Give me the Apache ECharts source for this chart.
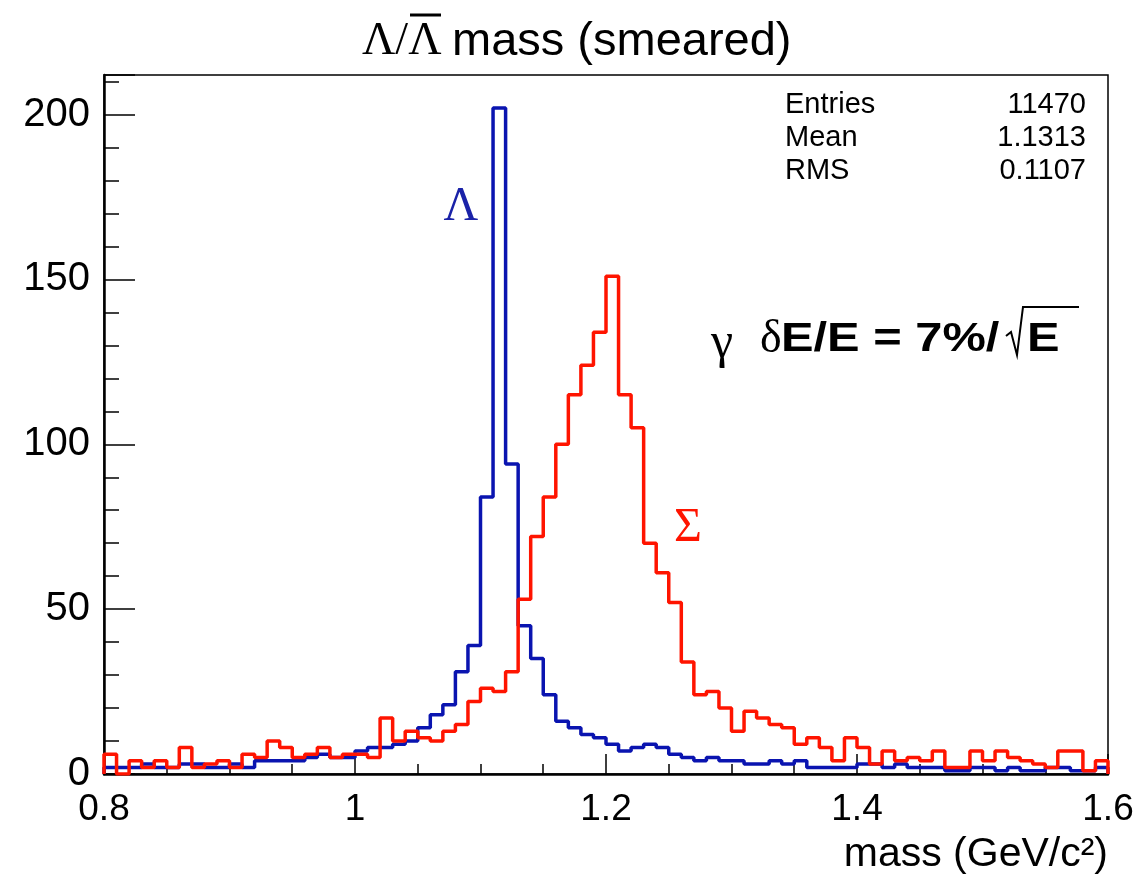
<!DOCTYPE html>
<html>
<head>
<meta charset="utf-8">
<title>Lambda mass (smeared)</title>
<script src="https://cdn.jsdelivr.net/npm/echarts@6/dist/echarts.min.js"></script>
<style>
  html, body { margin: 0; padding: 0; background: #fff; }
  #chart { width: 1143px; height: 882px; }
</style>
</head>
<body>
<div id="chart"></div>
<script>
// histogram binning: 80 bins of 0.01 GeV from 0.8 to 1.6
const binLo = 0.8;
const binWidth = 0.01;

// Lambda (blue) counts per bin
const lambdaCounts = [
  2, 2, 2, 3, 2, 2, 3, 3, 2, 2,
  3, 2, 4, 4, 4, 4, 5, 6, 5, 5,
  7, 8, 8, 9, 10, 14, 18, 21, 31, 39,
  84, 202, 94, 45, 35, 24, 16, 14, 12, 11,
  9, 7, 8, 9, 8, 6, 5, 4, 5, 4,
  4, 3, 3, 4, 3, 4, 2, 2, 2, 2,
  3, 3, 2, 3, 2, 2, 2, 1, 1, 2,
  2, 1, 2, 1, 1, 2, 2, 1, 1, 2
];

// Sigma (red) counts per bin
const sigmaCounts = [
  6, 0, 4, 2, 4, 2, 8, 2, 3, 4,
  2, 6, 5, 10, 8, 5, 6, 8, 5, 6,
  6, 5, 17, 10, 13, 11, 10, 13, 15, 22,
  26, 25, 31, 53, 72, 84, 100, 115, 124, 134,
  151, 115, 105, 70, 61, 52, 34, 24, 25, 20,
  13, 19, 17, 15, 14, 9, 11, 8, 4, 11,
  8, 3, 7, 4, 5, 4, 7, 2, 2, 7,
  4, 7, 5, 4, 3, 2, 7, 7, 1, 4
];

const xTickLabels = ['0.8', '1', '1.2', '1.4', '1.6'];
const yTickLabels = ['0', '50', '100', '150', '200'];

const statNames = ['Entries', 'Mean', 'RMS'];
const statValues = ['11470', '1.1313', '0.1107'];

// turn bin counts into step outline points (left edge of each bin + closing edge)
function histPoints(counts) {
  let pts = [[binLo, 0]];
  counts.forEach((c, i) => {
    pts.push([+(binLo + i * binWidth).toFixed(3), c]);
  });
  let hi = +(binLo + counts.length * binWidth).toFixed(3);
  pts.push([hi, counts[counts.length - 1]]);
  pts.push([hi, 0]);
  return pts;
}

const sans = '"Liberation Sans", Arial, Helvetica, sans-serif';
const serif = '"Liberation Serif", "DejaVu Serif", serif';

let chart = echarts.init(document.getElementById('chart'));

let statTexts = [];
statNames.forEach((name, i) => {
  statTexts.push({
    type: 'text', x: 785, y: 105 + i * 33,
    style: { text: name, font: '29px ' + sans, fill: '#000', textAlign: 'left', textVerticalAlign: 'middle', align: 'left', verticalAlign: 'middle' }
  });
  statTexts.push({
    type: 'text', x: 1086, y: 105 + i * 33,
    style: { text: statValues[i], font: '29px ' + sans, fill: '#000', textAlign: 'right', textVerticalAlign: 'middle', align: 'right', verticalAlign: 'middle' }
  });
});

chart.setOption({
  animation: false,
  backgroundColor: '#fff',
  grid: {
    left: 104,
    right: 35,
    top: 75,
    bottom: 108,
    show: true,
    borderColor: '#000',
    borderWidth: 1.5,
    containLabel: false
  },
  xAxis: {
    type: 'value',
    min: 0.8,
    max: 1.6,
    interval: 0.2,
    name: 'mass (GeV/c²)',
    nameLocation: 'end',
    nameGap: 0,
    nameTextStyle: {
      fontFamily: sans, fontSize: 41, color: '#000',
      align: 'right', verticalAlign: 'top', padding: [60, 0, 0, 0]
    },
    axisLine: { show: true, onZero: false, lineStyle: { color: '#000', width: 2.5 } },
    axisTick: { show: true, inside: true, length: 20, lineStyle: { color: '#000', width: 1.5 } },
    minorTick: { show: true, splitNumber: 4, length: 10, lineStyle: { color: '#000', width: 1.5 } },
    axisLabel: {
      fontFamily: sans, fontSize: 37, color: '#000', margin: 17,
      formatter: v => {
        let s = String(Math.round(v * 100) / 100);
        return xTickLabels.indexOf(s) >= 0 ? s : '';
      }
    },
    splitLine: { show: false }
  },
  yAxis: {
    type: 'value',
    min: 0,
    max: 212,
    interval: 50,
    axisLine: { show: true, onZero: false, lineStyle: { color: '#000', width: 2.5 } },
    axisTick: { show: true, inside: true, length: 31, lineStyle: { color: '#000', width: 1.5 } },
    minorTick: { show: true, splitNumber: 5, length: 15, lineStyle: { color: '#000', width: 1.5 } },
    axisLabel: {
      fontFamily: sans, fontSize: 40, color: '#000', margin: 14,
      showMaxLabel: false,
      formatter: v => {
        let s = String(Math.round(v));
        return yTickLabels.indexOf(s) >= 0 ? s : '';
      }
    },
    splitLine: { show: false }
  },
  series: [
    {
      name: 'Λ',
      type: 'line',
      step: 'end',
      data: histPoints(lambdaCounts),
      showSymbol: false,
      lineStyle: { color: '#0a14b0', width: 3.5 },
      itemStyle: { color: '#0a14b0' },
      z: 3
    },
    {
      name: 'Σ',
      type: 'line',
      step: 'end',
      data: histPoints(sigmaCounts),
      showSymbol: false,
      lineStyle: { color: '#ff1400', width: 3.5 },
      itemStyle: { color: '#ff1400' },
      z: 4
    }
  ],
  graphic: [
    // title  Λ/Λ̄ mass (smeared)
    { type: 'text', x: 362, y: 42,
      style: { text: 'Λ/Λ', font: '46px ' + serif, fill: '#000', textAlign: 'left', textVerticalAlign: 'middle', align: 'left', verticalAlign: 'middle' } },
    { type: 'line', shape: { x1: 410, y1: 15, x2: 441, y2: 15 }, style: { stroke: '#000', lineWidth: 3 } },
    { type: 'text', x: 452, y: 42,
      style: { text: 'mass (smeared)', font: '47px ' + sans, fill: '#000', textAlign: 'left', textVerticalAlign: 'middle', align: 'left', verticalAlign: 'middle' } },
    // series labels
    { type: 'text', x: 461, y: 207,
      style: { text: 'Λ', font: '48px ' + serif, fill: '#1a22a8', textAlign: 'center', textVerticalAlign: 'middle', align: 'center', verticalAlign: 'middle' } },
    { type: 'text', x: 688, y: 528,
      style: { text: 'Σ', font: '48px ' + serif, fill: '#ff1400', textAlign: 'center', textVerticalAlign: 'middle', align: 'center', verticalAlign: 'middle' } },
    // resolution formula
    { type: 'text', x: 711, y: 344,
      style: { text: 'γ', font: '50px ' + serif, fill: '#000', textAlign: 'left', textVerticalAlign: 'middle', align: 'left', verticalAlign: 'middle' } },
    { type: 'text', x: 760, y: 340,
      style: { text: 'δ', font: '46px ' + serif, fill: '#000', textAlign: 'left', textVerticalAlign: 'middle', align: 'left', verticalAlign: 'middle' } },
    { type: 'text', x: 781, y: 340, scaleX: 1.22,
      style: { text: 'E/E = 7%/', font: 'bold 40px ' + sans, fill: '#000', textAlign: 'left', textVerticalAlign: 'middle', align: 'left', verticalAlign: 'middle' } },
    { type: 'polyline', shape: { points: [[1006, 336], [1011, 332], [1017, 355], [1023, 307], [1079, 307]] },
      style: { stroke: '#000', lineWidth: 2, fill: null } },
    { type: 'text', x: 1027, y: 340, scaleX: 1.22,
      style: { text: 'E', font: 'bold 40px ' + sans, fill: '#000', textAlign: 'left', textVerticalAlign: 'middle', align: 'left', verticalAlign: 'middle' } }
  ].concat(statTexts)
});
</script>
</body>
</html>
